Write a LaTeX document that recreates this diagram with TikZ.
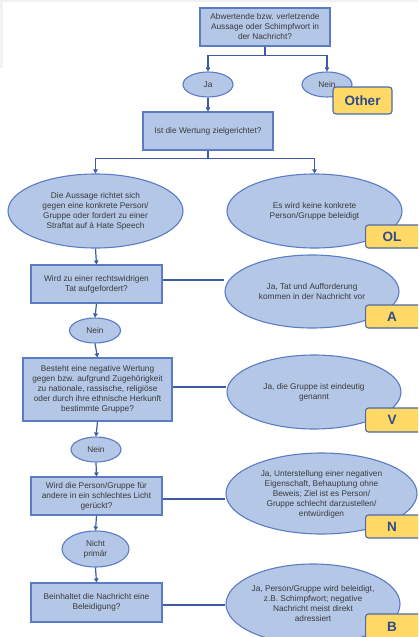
\documentclass[tikz,border=0pt]{standalone}
\usepackage{fontspec}
\setmainfont{Liberation Sans}
\usetikzlibrary{shapes.geometric,arrows.meta}
\definecolor{boxfill}{HTML}{B4C7E7}
\definecolor{boxline}{HTML}{5B7CC4}
\definecolor{conn}{HTML}{3D5CA3}
\definecolor{txt}{HTML}{3A3A3A}
\definecolor{labfill}{HTML}{FFD966}
\definecolor{labline}{HTML}{4C6AAA}
\definecolor{labtxt}{HTML}{2E4B8C}
\definecolor{bggray}{HTML}{F2F2F2}
\tikzset{
  qbox/.style={draw=boxline, fill=boxfill, line width=1.1pt, rectangle, inner sep=0pt, align=center, text=txt, font=\fontsize{8.3}{10}\selectfont},
  oval/.style={draw=boxline, fill=boxfill, line width=1.1pt, ellipse, inner sep=0pt, align=center, text=txt, font=\fontsize{8.3}{10}\selectfont},
  tag/.style={draw=labline, fill=labfill, line width=1.1pt, rounded corners=3pt, rectangle, inner sep=0pt, text=labtxt, font=\fontsize{13.5}{14}\selectfont\bfseries},
  arr/.style={draw=conn, line width=1.2pt, -{Triangle[width=4.5pt,length=4pt]}},
  ln/.style={draw=conn, line width=1.2pt},
}
\begin{document}
\begin{tikzpicture}[x=1pt,y=-1pt]
\clip (0,0) rectangle (418,637);
\useasboundingbox (0,0) rectangle (418,637);
\fill[white] (0,0) rectangle (418,637);
\fill[bggray] (0,0) rectangle (418,2);
\fill[bggray] (0,0) rectangle (3,68);

% nodes
\node[qbox, minimum width=130pt, minimum height=38pt] (q1) at (265,27) {Abwertende bzw. verletzende\\Aussage oder Schimpfwort in\\der Nachricht?};
\node[oval, minimum width=50pt, minimum height=25pt] (ja1) at (208,84.5) {Ja};
\node[oval, minimum width=50pt, minimum height=25pt] (nein1) at (327,84.5) {Nein};
\node[qbox, minimum width=130pt, minimum height=38pt] (q2) at (208,131) {Ist die Wertung zielgerichtet?};
\node[oval, minimum width=175pt, minimum height=74pt] (e1) at (95.5,211) {Die Aussage richtet sich\\gegen eine konkrete Person/\\Gruppe oder fordert zu einer\\Straftat auf à Hate Speech};
\node[oval, minimum width=175pt, minimum height=74pt] (e2) at (314.5,211) {Es wird keine konkrete\\Person/Gruppe beleidigt};
\node[qbox, minimum width=131pt, minimum height=38pt] (q3) at (96.5,284) {Wird zu einer rechtswidrigen\\Tat aufgefordert?};
\node[oval, minimum width=174pt, minimum height=73pt] (eA) at (312,291.5) {Ja, Tat und Aufforderung\\kommen in der Nachricht vor};
\node[oval, minimum width=51pt, minimum height=25pt] (nein2) at (95,330.5) {Nein};
\node[qbox, minimum width=149pt, minimum height=63pt] (q4) at (97.5,389.5) {Besteht eine negative Wertung\\gegen bzw. aufgrund Zugehörigkeit\\zu nationale, rassische, religiöse\\oder durch ihre ethnische Herkunft\\bestimmte Gruppe?};
\node[oval, minimum width=174pt, minimum height=74pt] (eV) at (314,392) {Ja, die Gruppe ist eindeutig\\genannt};
\node[oval, minimum width=50pt, minimum height=25pt] (nein3) at (96,449.5) {Nein};
\node[qbox, minimum width=131pt, minimum height=38pt] (q5) at (96.5,496) {Wird die Person/Gruppe für\\andere in ein schlechtes Licht\\gerückt?};
\node[oval, minimum width=191pt, minimum height=81pt] (eN) at (321.5,493.5) {\\[-3pt]Ja, Unterstellung einer negativen\\Eigenschaft, Behauptung ohne\\Beweis; Ziel ist es Person/\\Gruppe schlecht darzustellen/\\entwürdigen};
\node[oval, minimum width=67pt, minimum height=36pt] (np) at (95.5,549) {Nicht\\primär};
\node[qbox, minimum width=131pt, minimum height=39pt] (q6) at (96.5,602.5) {Beinhaltet die Nachricht eine\\Beleidigung?};
\node[oval, minimum width=174pt, minimum height=80pt] (eB) at (313,604) {Ja, Person/Gruppe wird beleidigt,\\z.B. Schimpfwort; negative\\Nachricht meist direkt\\adressiert};

% tags
\node[tag, minimum width=59pt, minimum height=27pt] (tOther) at (362.5,100.5) {Other};
\node[tag, minimum width=58pt, minimum height=23pt, anchor=west] (tOL) at (365,236.5) {\hspace*{-5pt}OL};
\node[tag, minimum width=58pt, minimum height=23pt, anchor=west] (tA) at (365,316.5) {\hspace*{-5pt}A};
\node[tag, minimum width=58pt, minimum height=24pt, anchor=west] (tV) at (365,420) {\hspace*{-5pt}V};
\node[tag, minimum width=58pt, minimum height=23pt, anchor=west] (tN) at (365,526.5) {\hspace*{-5pt}N};
\node[tag, minimum width=58pt, minimum height=26pt, anchor=west] (tB) at (365,627) {\hspace*{-5pt}B};

% connectors
\draw[arr] (q1.south) -- ++(0,9) -| (ja1.north);
\draw[arr] (q1.south) -- ++(0,9) -| (nein1.north);
\draw[arr] (ja1.south) -- (q2.north);
\draw[arr] (q2.south) -- ++(0,8) -| (e1.north);
\draw[arr] (q2.south) -- ++(0,8) -| (e2.north);
\draw[arr] (e1.south) -- (q3.north);
\draw[ln] ([yshift=4pt]q3.east) -- ([yshift=4pt]q3.east -| eA.west);
\draw[arr] (q3.south) -- (nein2.north);
\draw[arr] (nein2.south) -- (q4.north);
\draw[ln] ([yshift=2.5pt]q4.east) -- ([yshift=2.5pt]q4.east -| eV.west);
\draw[arr] (q4.south) -- (nein3.north);
\draw[arr] (nein3.south) -- (q5.north);
\draw[ln] ([yshift=-3pt]q5.east) -- ([yshift=-3pt]q5.east -| eN.west);
\draw[arr] (q5.south) -- (np.north);
\draw[arr] (np.south) -- (q6.north);
\draw[ln] ([yshift=-2.5pt]q6.east) -- ([yshift=-2.5pt]q6.east -| eB.west);
\end{tikzpicture}
\end{document}
